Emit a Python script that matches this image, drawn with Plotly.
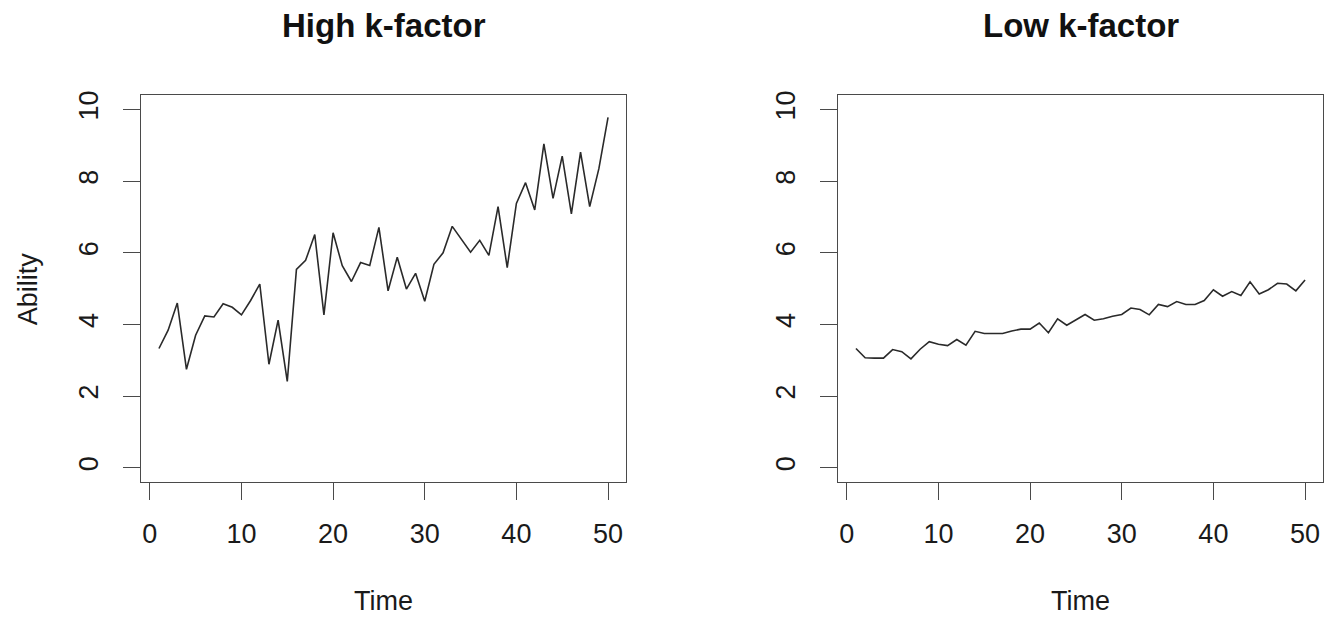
import plotly.graph_objects as go

time = list(range(1, 51))
high_k = [3.33, 3.84, 4.60, 2.75, 3.70, 4.24, 4.21, 4.58, 4.48, 4.27,
          4.67, 5.13, 2.89, 4.12, 2.41, 5.54, 5.79, 6.51, 4.27, 6.56,
          5.64, 5.20, 5.73, 5.65, 6.71, 4.94, 5.88, 4.99, 5.43, 4.65,
          5.68, 6.00, 6.74, 6.37, 6.02, 6.35, 5.93, 7.29, 5.59, 7.38,
          7.96, 7.20, 9.04, 7.52, 8.70, 7.09, 8.81, 7.29, 8.35, 9.78]
low_k = [3.33, 3.07, 3.06, 3.06, 3.30, 3.24, 3.04, 3.31, 3.52, 3.45,
         3.41, 3.58, 3.42, 3.81, 3.75, 3.76, 3.75, 3.82, 3.87, 3.87,
         4.04, 3.77, 4.16, 3.98, 4.14, 4.28, 4.12, 4.16, 4.23, 4.28,
         4.46, 4.42, 4.27, 4.56, 4.50, 4.64, 4.56, 4.56, 4.67, 4.97,
         4.79, 4.92, 4.81, 5.19, 4.85, 4.97, 5.15, 5.13, 4.94, 5.24]
titles = ["High k-factor", "Low k-factor"]
x_ticks = [0, 10, 20, 30, 40, 50]
y_ticks = [0, 2, 4, 6, 8, 10]
x_label = "Time"
y_label = "Ability"

W, H = 1334, 617
FONT = "Liberation Sans, Arial, Helvetica, sans-serif"
TXT = "#1a1a1a"
LINE = "#4a4a4a"

# plot boxes in pixels (left, right, top, bottom)
boxes = [(141, 626, 91, 481), (838, 1323, 91, 481)]

fig = go.Figure()
for i, (series, box) in enumerate(zip([high_k, low_k], boxes)):
    n = "" if i == 0 else str(i + 1)
    l, r, t, b = box
    fig.add_trace(go.Scatter(x=time, y=series, mode="lines",
                             line=dict(color="#2a2a2a", width=1.6),
                             xaxis="x" + n, yaxis="y" + n, showlegend=False,
                             hoverinfo="skip"))
    common = dict(showline=True, mirror=True, linecolor=LINE, linewidth=1,
                  ticks="outside", ticklen=17, tickwidth=1, tickcolor=LINE,
                  showgrid=False, zeroline=False,
                  tickfont=dict(family=FONT, size=27, color=TXT))
    fig.update_layout(**{
        "xaxis" + n: dict(domain=[l / W, r / W], range=[-0.96, 51.96],
                          tickvals=x_ticks, anchor="y" + n,
                          ticklabelstandoff=10, **common),
        "yaxis" + n: dict(domain=[1 - b / H, 1 - t / H], range=[-0.4, 10.4],
                          tickvals=y_ticks, anchor="x" + n, tickangle=-90,
                          ticklabelstandoff=14, **common),
    })
    cx = (l + r) / 2
    fig.add_annotation(x=cx / W, y=1 - 21 / H, xref="paper", yref="paper",
                       text="<b>" + titles[i] + "</b>", showarrow=False,
                       xanchor="center", yanchor="middle",
                       font=dict(family=FONT, size=33, color="#111111"))
    fig.add_annotation(x=cx / W, y=1 - 601 / H, xref="paper", yref="paper",
                       text=x_label, showarrow=False,
                       xanchor="center", yanchor="middle",
                       font=dict(family=FONT, size=27, color=TXT))

fig.add_annotation(x=27.5 / W, y=1 - 286 / H, xref="paper", yref="paper",
                   text=y_label, showarrow=False, textangle=-90,
                   xanchor="center", yanchor="middle",
                   font=dict(family=FONT, size=27, color=TXT))

fig.update_layout(width=W, height=H, margin=dict(l=0, r=0, t=0, b=0),
                  paper_bgcolor="white", plot_bgcolor="white")
fig.write_html("out.html", config={"displayModeBar": False},
               post_script="document.body.style.margin='0';"
                           "document.body.style.overflow='hidden';")
